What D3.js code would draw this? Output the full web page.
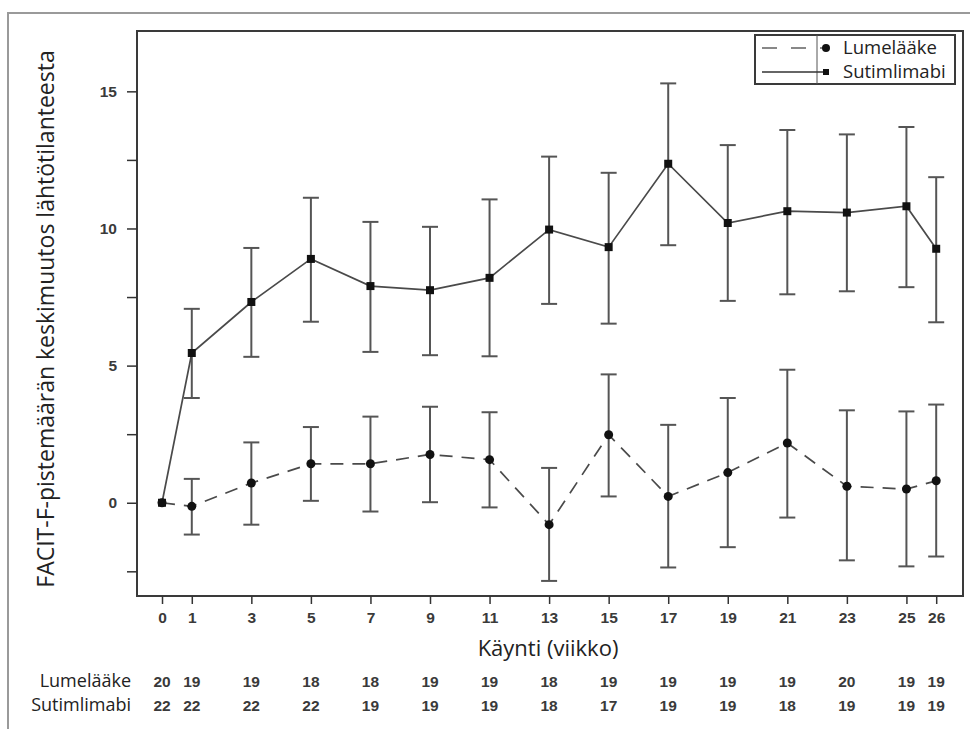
<html>
<head>
<meta charset="utf-8">
<script src="https://d3js.org/d3.v7.min.js"></script>
<style>
body { margin: 0; background: #fff; font-family: "Open Sans", "Noto Sans", sans-serif; }
.tick text { font-family: "Liberation Sans", Arial, sans-serif; font-size: 15.5px; font-weight: bold; fill: #3a3a3a; }
</style>
</head>
<body>
<script>
// visit weeks
var weeks = [0, 1, 3, 5, 7, 9, 11, 13, 15, 17, 19, 21, 23, 25, 26];

// placebo (Lumelääke): mean and error bar ends
var placeboMean = [0, -0.13, 0.72, 1.42, 1.42, 1.76, 1.57, -0.8, 2.48, 0.23, 1.1, 2.18, 0.6, 0.5, 0.8];
var placeboLow  = [null, -1.16, -0.8, 0.07, -0.32, 0.02, -0.17, -2.85, 0.23, -2.36, -1.62, -0.54, -2.1, -2.32, -1.96];
var placeboHigh = [null, 0.87, 2.2, 2.76, 3.14, 3.5, 3.3, 1.27, 4.68, 2.84, 3.82, 4.85, 3.37, 3.33, 3.58];

// sutimlimab
var sutiMean = [0, 5.46, 7.32, 8.89, 7.9, 7.75, 8.2, 9.96, 9.32, 12.36, 10.2, 10.63, 10.58, 10.81, 9.26];
var sutiLow  = [null, 3.82, 5.32, 6.6, 5.5, 5.38, 5.34, 7.25, 6.53, 9.39, 7.36, 7.6, 7.71, 7.86, 6.58];
var sutiHigh = [null, 7.07, 9.29, 11.12, 10.24, 10.06, 11.06, 12.62, 12.03, 15.29, 13.04, 13.59, 13.43, 13.7, 11.87];

// patients at risk
var nPlacebo = [20, 19, 19, 18, 18, 19, 19, 18, 19, 19, 19, 19, 20, 19, 19];
var nSuti    = [22, 22, 22, 22, 19, 19, 19, 18, 17, 19, 19, 18, 19, 19, 19];

var yMajor = [0, 5, 10, 15];
var yMinor = [-2.5, 2.5, 7.5, 12.5];

var width = 970, height = 729;
var plotLeft = 137, plotRight = 963, plotTop = 31, plotBottom = 596;

var svg = d3.select('body').append('svg').attr('width', width).attr('height', height);

// outer frame
svg.append('rect').attr('x', 8).attr('y', 13).attr('width', 975).attr('height', 740)
	.attr('fill', 'none').attr('stroke', '#9a9a9a').attr('stroke-width', 2);

var x = d3.scaleLinear().domain([-0.84, 26.9]).range([plotLeft, plotRight]);
var y = d3.scaleLinear().domain([-3.4, 17.2]).range([plotBottom, plotTop]);

var ink = '#333';
var barInk = '#555';

// plot frame
svg.append('rect').attr('x', plotLeft).attr('y', plotTop).attr('width', plotRight - plotLeft).attr('height', plotBottom - plotTop)
	.attr('fill', 'none').attr('stroke', '#3a3a3a').attr('stroke-width', 2);

// y axis
var yAxis = d3.axisLeft(y).tickValues(yMajor).tickSize(10).tickPadding(10).tickFormat(d3.format('d'));
var gy = svg.append('g').attr('transform', 'translate(' + plotLeft + ',0)').call(yAxis);
gy.select('.domain').remove();
gy.selectAll('.tick line').attr('stroke', ink).attr('stroke-width', 1.5);
var gyMinor = svg.append('g').attr('transform', 'translate(' + plotLeft + ',0)')
	.call(d3.axisLeft(y).tickValues(yMinor).tickSize(10).tickFormat(''));
gyMinor.select('.domain').remove();
gyMinor.selectAll('.tick line').attr('stroke', ink).attr('stroke-width', 1.5);

// x axis
var xAxis = d3.axisBottom(x).tickValues(weeks).tickSize(8).tickPadding(8).tickFormat(d3.format('d'));
var gx = svg.append('g').attr('transform', 'translate(0,' + plotBottom + ')').call(xAxis);
gx.select('.domain').remove();
gx.selectAll('.tick line').attr('stroke', ink).attr('stroke-width', 1.5);

// axis titles
svg.append('text').attr('transform', 'translate(54,319) rotate(-90)')
	.attr('text-anchor', 'middle').style('font-size', '23px').attr('fill', '#222')
	.text('FACIT-F-pistemäärän keskimuutos lähtötilanteesta');
svg.append('text').attr('x', 548).attr('y', 656).attr('text-anchor', 'middle')
	.style('font-size', '22px').attr('fill', '#222').text('Käynti (viikko)');

function series(mean, low, high, dashed, marker) {
	var pts = weeks.map(function(w, i) { return {w: w, m: mean[i], lo: low[i], hi: high[i]}; });
	var g = svg.append('g');
	var bars = pts.filter(function(d) { return d.lo != null; });
	g.selectAll('line.bar').data(bars).enter().append('line')
		.attr('x1', function(d) { return x(d.w); }).attr('x2', function(d) { return x(d.w); })
		.attr('y1', function(d) { return y(d.lo); }).attr('y2', function(d) { return y(d.hi); })
		.attr('stroke', barInk).attr('stroke-width', 2);
	['lo', 'hi'].forEach(function(k) {
		g.selectAll('line.cap' + k).data(bars).enter().append('line')
			.attr('x1', function(d) { return x(d.w) - 8; }).attr('x2', function(d) { return x(d.w) + 8; })
			.attr('y1', function(d) { return y(d[k]); }).attr('y2', function(d) { return y(d[k]); })
			.attr('stroke', barInk).attr('stroke-width', 2);
	});
	var line = d3.line().x(function(d) { return x(d.w); }).y(function(d) { return y(d.m); });
	g.append('path').datum(pts).attr('d', line).attr('fill', 'none').attr('stroke', '#4a4a4a')
		.attr('stroke-width', 1.7).style('stroke-dasharray', dashed ? '13,9' : null);
	if (marker == 'circle') {
		g.selectAll('circle').data(pts).enter().append('circle')
			.attr('cx', function(d) { return x(d.w); }).attr('cy', function(d) { return y(d.m); })
			.attr('r', 4.5).attr('fill', '#111');
	} else {
		g.selectAll('rect').data(pts).enter().append('rect')
			.attr('x', function(d) { return x(d.w) - 4; }).attr('y', function(d) { return y(d.m) - 4; })
			.attr('width', 8).attr('height', 8).attr('fill', '#111');
	}
}
series(sutiMean, sutiLow, sutiHigh, false, 'square');
series(placeboMean, placeboLow, placeboHigh, true, 'circle');

// legend
var lg = svg.append('g');
lg.append('rect').attr('x', 755).attr('y', 35).attr('width', 200).attr('height', 49)
	.attr('fill', '#fff').attr('stroke', '#3a3a3a').attr('stroke-width', 2);
lg.append('line').attr('x1', 817).attr('x2', 817).attr('y1', 35).attr('y2', 84)
	.attr('stroke', '#555').attr('stroke-width', 1);
lg.append('line').attr('x1', 762).attr('x2', 824).attr('y1', 48).attr('y2', 48)
	.attr('stroke', '#888').attr('stroke-width', 2).style('stroke-dasharray', '15,14');
lg.append('circle').attr('cx', 826).attr('cy', 48).attr('r', 4).attr('fill', '#111');
lg.append('line').attr('x1', 762).attr('x2', 824).attr('y1', 72).attr('y2', 72)
	.attr('stroke', '#333').attr('stroke-width', 1.5);
lg.append('rect').attr('x', 823).attr('y', 69).attr('width', 6).attr('height', 6).attr('fill', '#111');
lg.append('text').attr('x', 843).attr('y', 54).style('font-size', '18.5px').attr('fill', '#222').text('Lumelääke');
lg.append('text').attr('x', 843).attr('y', 78).style('font-size', '18.5px').attr('fill', '#222').text('Sutimlimabi');

// numbers at risk table
var rows = [{name: 'Lumelääke', n: nPlacebo, y: 687}, {name: 'Sutimlimabi', n: nSuti, y: 711}];
rows.forEach(function(r) {
	svg.append('text').attr('x', 131).attr('y', r.y).attr('text-anchor', 'end')
		.style('font-size', '18px').attr('fill', '#222').text(r.name);
	svg.append('g').selectAll('text').data(r.n).enter().append('text')
		.attr('x', function(d, i) { return x(weeks[i]); }).attr('y', r.y)
		.attr('text-anchor', 'middle')
		.style('font-family', '"Liberation Sans", Arial, sans-serif').style('font-size', '15.5px')
		.style('font-weight', 'bold').attr('fill', '#3a3a3a').text(function(d) { return d; });
});
</script>
</body>
</html>
